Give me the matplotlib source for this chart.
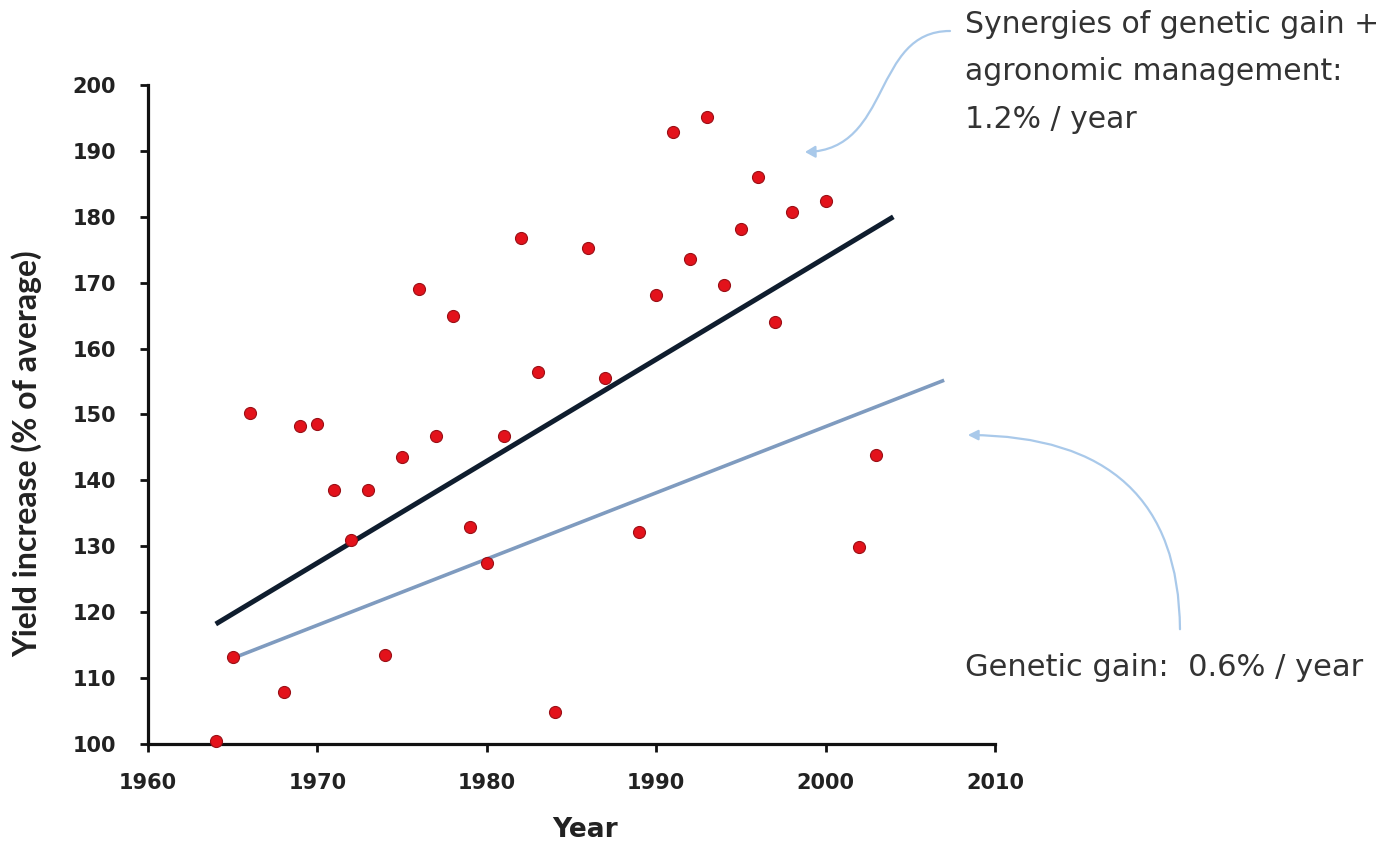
import matplotlib
matplotlib.use("Agg")
import matplotlib.pyplot as plt
from matplotlib.path import Path
from matplotlib.patches import FancyArrowPatch

# yield data
years = [1964, 1965, 1966, 1968, 1969, 1970, 1971, 1972, 1973, 1974, 1975, 1976,
         1977, 1978, 1979, 1980, 1981, 1982, 1983, 1984, 1986, 1987, 1989, 1990,
         1991, 1992, 1993, 1994, 1995, 1996, 1997, 1998, 2000, 2002, 2003]
yield_pct = [100.5, 113.2, 150.3, 107.9, 148.3, 148.5, 138.6, 131.0, 138.6, 113.5,
             143.6, 169.0, 146.7, 165.0, 133.0, 127.5, 146.7, 176.8, 156.5, 104.9,
             175.3, 155.6, 132.1, 168.2, 192.9, 173.6, 195.1, 169.6, 178.1, 186.0,
             164.1, 180.7, 182.4, 129.9, 143.8]

# trend lines (start/end)
synergy_x = [1964, 2004]
synergy_y = [118.2, 180.0]
genetic_x = [1965, 2007]
genetic_y = [113.0, 155.2]

xticks = [1960, 1970, 1980, 1990, 2000, 2010]
yticks = list(range(100, 201, 10))

WIDE = "DejaVu Sans"
TALL = "Lato"
TEXT = "#333333"
ARROW = "#a9c9ea"

fig = plt.figure(figsize=(14, 8.52), dpi=100, facecolor="white")
ax = fig.add_axes([0.1057, 0.1268, 0.605, 0.7734])

ax.plot(synergy_x, synergy_y, color="#0f1d2e", lw=3.6, solid_capstyle="butt", zorder=2)
ax.plot(genetic_x, genetic_y, color="#7f9bbf", lw=2.6, solid_capstyle="butt", zorder=2)
ax.scatter(years, yield_pct, s=75, color="#e3121b", edgecolors="#9a1016",
           linewidths=0.8, zorder=3, clip_on=False)

ax.set_xlim(1960, 2010)
ax.set_ylim(100, 200)
ax.set_xticks(xticks)
ax.set_yticks(yticks)
for s in ["top", "right"]:
    ax.spines[s].set_visible(False)
for s in ["left", "bottom"]:
    ax.spines[s].set_linewidth(2.3)
    ax.spines[s].set_color("#111111")
ax.tick_params(axis="both", direction="out", length=6, width=2.0, color="#111111")
ax.tick_params(axis="x", pad=15)
ax.tick_params(axis="y", pad=17)
for lab in ax.get_xticklabels() + ax.get_yticklabels():
    lab.set_fontfamily(WIDE)
    lab.set_fontweight("bold")
    lab.set_fontsize(15)
    lab.set_color("#222222")

ax.set_xlabel("Year", fontfamily=WIDE, fontweight="bold", fontsize=19,
              color="#222222", va="center", ha="center")
ax.xaxis.set_label_coords(0.516, -0.13)
ax.set_ylabel("Yield increase (% of average)", fontfamily=TALL, fontweight="bold",
              fontsize=23, color="#222222", va="center", ha="center")
ax.yaxis.set_label_coords(-0.143, 0.44)

# annotations, positioned in figure pixels
def fig_xy(px, py):
    return px / 1400, 1 - py / 852

fig.text(*fig_xy(965, 10), "Synergies of genetic gain +\nagronomic management:\n1.2% / year",
         fontfamily=WIDE, fontsize=21.5, color=TEXT, va="top", ha="left", linespacing=1.8)
fig.text(*fig_xy(965, 668), "Genetic gain:  0.6% / year", fontfamily=WIDE, fontsize=22,
         color=TEXT, va="center", ha="left")

verts = [fig_xy(950, 31), fig_xy(872, 31), fig_xy(892, 150), fig_xy(805, 152)]
s_path = Path(verts, [Path.MOVETO, Path.CURVE4, Path.CURVE4, Path.CURVE4])
fig.patches.append(FancyArrowPatch(path=s_path, arrowstyle="-|>,head_length=6,head_width=3.5",
                                   color=ARROW, lw=1.6, transform=fig.transFigure))

ax.annotate("", xy=fig_xy(965, 435), xycoords="figure fraction",
            xytext=fig_xy(1180, 632), textcoords="figure fraction",
            arrowprops=dict(arrowstyle="-|>,head_length=0.6,head_width=0.3", color=ARROW,
                            lw=1.6, connectionstyle="angle3,angleA=90,angleB=0"),
            annotation_clip=False)

fig.savefig("out.png", dpi=100, facecolor="white")
